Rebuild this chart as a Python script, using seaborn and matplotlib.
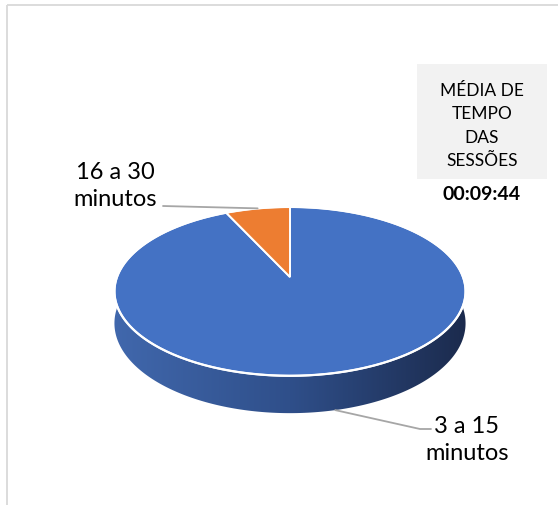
import numpy as np
import matplotlib
matplotlib.use("Agg")
import matplotlib.pyplot as plt
from matplotlib.patches import Polygon, Rectangle
from matplotlib.colors import ListedColormap
import seaborn as sns

# ---- data -------------------------------------------------------------
categories = ["3 a 15\nminutos", "16 a 30\nminutos"]
shares = [93, 7]
summary_title = "MÉDIA DE\nTEMPO\nDAS\nSESSÕES"
summary_value = "00:09:44"

# ---- style ------------------------------------------------------------
sns.set_theme(style="white")
plt.rcParams["font.family"] = ["Lato", "DejaVu Sans"]
slice_colors = sns.color_palette(["#4472C4", "#ED7D31"])
side_cmap = ListedColormap(
    sns.blend_palette(["#4168ad", "#2f4f8a", "#1b2a4c"], n_colors=256))

W, H = 558, 506
fig = plt.figure(figsize=(W / 100, H / 100), dpi=100)
ax = fig.add_axes([0, 0, 1, 1])
ax.set_xlim(0, W)
ax.set_ylim(H, 0)
ax.axis("off")

# chart frame (top and left edge visible)
ax.plot([7, W], [5.5, 5.5], color="#d9d9d9", lw=1.3, solid_capstyle="butt")
ax.plot([7, 7], [5.5, H], color="#d9d9d9", lw=1.3, solid_capstyle="butt")

# ---- 3D pie geometry (perspective view of a disc) ---------------------
cx, cy = 290.0, 278.0      # projected pie centre
A, B = 173.0, 82.0         # horizontal / vertical radii
k = 0.17                   # perspective foreshortening
D = 31.0                   # disc thickness


def proj(t, r=1.0, z=0.0):
    u, v = r * np.cos(t), r * np.sin(t)
    s = 1.0 / (1.0 + k * v)
    return cx + A * u * s, cy - B * v * s + z * s


# side wall: outline of the front half, filled with a horizontal shading
ts = np.linspace(np.pi - 0.3, 2 * np.pi + 0.3, 400)
top_edge = [proj(t) for t in ts]
bottom_edge = [proj(t, z=D) for t in ts[::-1]]
side = Polygon(top_edge + bottom_edge, closed=True, facecolor="none",
               edgecolor="none")
ax.add_patch(side)
grad = np.linspace(0, 1, 256)[None, :]
x_left, x_right = cx - A - 6, cx + A + 6
img = ax.imshow(grad, cmap=side_cmap, aspect="auto",
                extent=(x_left, x_right, cy + D + B * 1.3, cy - B * 1.3),
                interpolation="bilinear", zorder=1)
img.set_clip_path(side)

# top face: slices clockwise from 12 o'clock
fractions = np.array(shares, dtype=float) / np.sum(shares)
start = np.pi / 2
mid_angles = []
for frac, color in zip(fractions, slice_colors):
    end = start - frac * 2 * np.pi
    arc = np.linspace(start, end, 300)
    pts = [proj(0, r=0)] + [proj(a) for a in arc]
    ax.add_patch(Polygon(pts, closed=True, facecolor=color,
                         edgecolor="white", lw=1.4, joinstyle="miter",
                         zorder=2))
    mid_angles.append((start + end) / 2)
    start = end

# white rim on the top edge
rim = np.linspace(0, 2 * np.pi, 400)
rx, ry = zip(*[proj(a) for a in rim])
ax.plot(rx, ry, color="white", lw=1.6, zorder=3)

# ---- data labels with leader lines ------------------------------------
leader = "#a6a6a6"
label_font = dict(fontsize=17, color="black", ha="center", va="center",
                  linespacing=1.35)

# blue slice: label below right, leader from the front of the disc
bx, by = proj(mid_angles[0], z=D)
ax.plot([bx, 420, 431], [by, 430, 430], color=leader, lw=1.3, zorder=4)
ax.text(467, 440, categories[0], **label_font)

# orange slice: label on the left, leader from the back rim
ox, oy = proj(mid_angles[1])
ax.plot([163, ox], [207, oy], color=leader, lw=1.3, zorder=4)
ax.text(115, 186, categories[1], **label_font)

# ---- summary box ------------------------------------------------------
ax.add_patch(Rectangle((417, 65), 130, 115, facecolor="#f2f2f2",
                       edgecolor="none"))
ax.text(482, 126, summary_title, fontsize=12.5, ha="center", va="center",
        linespacing=1.58, color="black")
ax.text(482, 195, summary_value, fontsize=14, fontweight="bold",
        ha="center", va="center", color="black")

fig.savefig("out.png", dpi=100)
